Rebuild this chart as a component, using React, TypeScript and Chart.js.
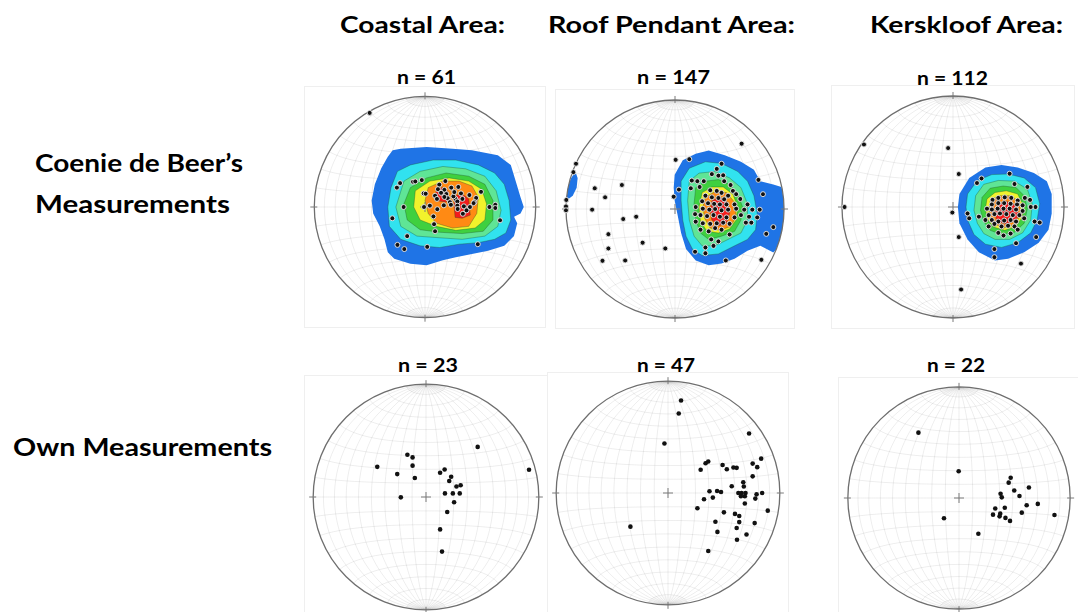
import React, { useEffect, useLayoutEffect, useRef } from "react";
import { Chart, registerables } from "chart.js";
Chart.register(...registerables);

type P = [number, number];
type Ring = [number, P[]];

// ---------- text ----------
const areaTitles = ["Coastal Area:", "Roof Pendant Area:", "Kerskloof Area:"];
const rowLabelsBeer = ["Coenie de Beer’s", "Measurements"];
const rowLabelOwn = "Own Measurements";
const beerCounts = [61, 147, 112];
const ownCounts = [23, 47, 22];

// ---------- poles (projected equal-area coordinates, primitive radius = 100) ----------
const coastalBeerPoles: P[] = [
  [-50, 85], [-22.5, 21.6], [-25.4, 17.5], [-10.8, 22.8], [-8.8, 23.1], [-2.9, 24.3], [-19.3, 0],
  [-29.5, -10.2], [-1.2, 12.3], [0.6, 12], [-0.9, 0], [4.4, 1.2], [11.1, -2], [7.6, -8.5], [8.2, -15.5],
  [9.1, -21.9], [-16.1, -26.3], [-24.9, -34.2], [-18.7, -38], [2, -36], [47.7, -33.6], [67.8, -12],
  [58.2, 0], [63.5, 2], [63.5, -0.9], [50.6, 13.7], [12.9, 20.2], [18.4, 23.4], [17.5, 15.5],
  [23.7, 17.5], [30.1, 18.1], [11.7, 16.1], [19.3, 11.7], [9.1, 10.2], [10.8, 7.3], [20.5, 7.9],
  [27.5, 7.3], [32.5, 12.3], [40.1, 10.8], [46.2, 8.2], [44.7, 4.4], [33.8, 7.3], [29.2, 5], [22.5, 4.4],
  [17, 1.5], [23.4, 2], [29.2, 1.2], [35.1, 0.6], [40.6, 0], [29.5, -1.8], [34.2, -6.1], [17.5, 9.1],
  [25.7, 9.6], [43.9, 3.5], [37.5, -3], [14.5, 12.8], [26.5, 13.5],
];

const roofBeerPoles: P[] = [
  [61.1, 59.9], [-90.8, 41.5], [-93.2, 33.8], [-99.7, 8.3], [-100, 2.4], [-100, -1.2], [-73.6, 19],
  [-48.7, 22], [-64.1, 10.7], [-76, -0.6], [-47.5, -9.2], [-35.6, -7.1], [-61.1, -23.1], [-61.1, -36.2],
  [-66.5, -47.5], [-45.7, -47.2], [-29.7, -30.9], [-8.9, -36.2], [0.6, 45.1], [13.1, 45.7], [-1.2, 11.3],
  [3.6, 17.8], [42.7, 41.5], [76.5, 26.7], [80.7, 13.6], [90.2, -16.6], [83.7, -22.8], [79.2, -46.6],
  [46.6, -47.2], [18.4, -39.2], [27.9, -40.6],
  [38.3, 36.8], [33.8, 32], [39.8, 30.6], [44.2, 30.9], [15.4, 26.1], [20.5, 25.5], [26.4, 25.5],
  [22.6, 20.2], [51, 22], [53.1, 16.6], [59.9, 9.2], [14.5, 19], [32.3, 17.2], [38.3, 16.6], [42.7, 14.8],
  [48.7, 12.2], [27.9, 12.2], [33.8, 10.7], [39.8, 10.1], [45.1, 8.9], [24.9, 7.1], [30.3, 5.3],
  [35.9, 4.7], [41.2, 4.2], [47.2, 4.2], [54.6, 4.2], [66.5, 4.2], [19, 1.8], [25.5, 0.3], [31.5, -0.6],
  [36.8, 0], [42.7, -1.2], [48.7, -0.6], [56.1, 0.3], [63.5, -0.6], [70.9, -0.6], [77.7, -0.6],
  [18.4, -4.7], [23.4, -5.6], [29.4, -6.5], [35.3, -5.6], [41.2, -7.1], [47.2, -7.7], [54.6, -7.7],
  [60.5, -5.6], [67.9, -7.1], [75.4, -7.7], [19, -11.6], [25.5, -13.1], [32.3, -13.6], [38.3, -13.1],
  [44.2, -12.5], [50.1, -13.6], [65, -12.5], [70, -12.5], [23.4, -19], [30.9, -20.5], [36.8, -17.5],
  [42.7, -19], [50.1, -23.4], [33.2, -27.9], [39.8, -29.7], [35.3, -33.8], [27.9, -35.3], [45.1, 25.5],
  [56.1, 13.6],
];

const kersBeerPoles: P[] = [
  [-80.2, 56.3], [-4.4, 53.1], [5.2, 29.7], [-97.7, 0], [-0.6, -5], [5.2, -27.1], [7.3, -74.3],
  [61.2, -51], [37.3, -37.9], [37.3, -45.2], [51, 30], [25.7, 25.7], [21.6, 21.6], [55.4, 20.7],
  [67, 18.1], [13.1, -5.8], [14.6, -10.2], [23.3, -8.7], [69.4, 6.4], [74.3, 0], [73.5, -13.1],
  [78.1, -14], [74.9, -27.1], [56.8, -32.6],
  [35.6, 6.4], [40.8, 8.2], [46.6, 8.7], [52.5, 8.2], [58.3, 5.8], [35, 2.3], [40.8, 3.5], [46.1, 3.5],
  [51.9, 2.9], [57.7, 2.3], [62.7, 1.5], [70, 0], [35, -2.3], [40.2, -1.5], [45.5, -1.5], [51, -1.5],
  [56.8, -2.3], [62.7, -3.5], [32.1, -7.3], [37.3, -6.4], [42.3, -5.8], [48.1, -6.4], [53.9, -7.3],
  [59.8, -7.3], [29.2, -11.7], [35, -11.7], [40.8, -13.1], [46.1, -12.2], [51.9, -11.7], [56.8, -13.1],
  [32.1, -17.5], [37.3, -15.2], [43.7, -17.5], [49.6, -16.9], [55.4, -17.5], [40.8, -23.3],
  [45.5, -25.7], [51.9, -23.9], [58.3, -20.4], [64.1, -10.2], [30.6, -1.5], [64.7, 8.2],
];

const coastalOwnPoles: P[] = [
  [45.8, 44.4], [91.3, 24.1], [-43.2, 26.7], [-16.5, 37.4], [-11.9, 35.1], [-11.9, 27.8], [-25.5, 20.3],
  [-9.9, 16.8], [-22.3, -0.3], [12.5, 21.5], [16.5, 24.4], [22.3, 18], [20.6, 14.2], [27, 9.3],
  [30.7, 10.4], [16.8, 3.2], [23.8, 3.2], [29.9, 3.2], [24.9, -4.6], [18.8, -13.3], [12.5, -28.7],
  [14.2, -48.4],
];

const roofOwnPoles: P[] = [
  [11.7, 82.7], [9.6, 71.1], [72.5, 53.2], [-3.2, 44.2], [83.3, 30.7], [75.7, 26.3], [79.8, 23.1],
  [75.7, 14.9], [33.6, 26.6], [36, 28.1], [29.2, 20.8], [48.8, 25.1], [52.6, 21.3], [58.5, 22.8],
  [61.4, 22.5], [67.3, 9.6], [57, 6.1], [67.8, 5.8], [37.1, 1.5], [43.9, 1.8], [47.4, 0.9], [32.2, -5.6],
  [40.1, -4.1], [62.9, 0], [65.8, 0], [69.3, 0], [65.2, -2.9], [68.7, -2.9], [79.2, -1.2], [84.2, 0],
  [78.1, -5], [68.7, -9.4], [26.3, -13.7], [89.2, -15.8], [50, -17.3], [59.9, -18.7], [63.7, -20.5],
  [42.4, -25.7], [63.7, -26], [77.5, -26.9], [61.4, -31.3], [44.2, -34.8], [70.2, -37.1], [61.7, -41.8],
  [36, -51.8], [-33.6, -30.1],
];

const kersOwnPoles: P[] = [
  [-36.5, 58.8], [-0.3, 24.1], [46.5, 18.2], [44.7, 13.8], [62.9, 9.4], [49.7, 6.8], [37.4, 3.8],
  [38.5, 0.6], [54.4, 1.8], [70.9, -5.3], [60.9, -6.5], [85.9, -15.3], [32.6, -9.4], [41.2, -8.8],
  [56.5, -13.2], [30.6, -15], [36.5, -16.5], [37.1, -14.1], [41.8, -17.9], [45.9, -20.6], [-13.5, -18.2],
  [17.4, -32.1],
];

// ---------- density contours: [level, ring] ----------
const coastalRings: Ring[] = [
  [0, [[-29.2, 51.2], [-21.9, 52.6], [1.5, 54.1], [24.9, 52.6], [42.4, 51.2], [65.8, 46.8], [77.5, 38], [81.9, 23.4], [86.3, 8.8], [89.2, 0], [86.3, -5.8], [80.4, -8.8], [83.3, -14.6], [80.4, -26.3], [71.6, -35.1], [57, -39.5], [42.4, -42.4], [27.8, -45.3], [16.1, -48.2], [1.5, -52.6], [-13.2, -51.2], [-27.8, -46.8], [-33.6, -40.9], [-36.6, -29.2], [-40.9, -17.5], [-46.8, -5.8], [-48.2, 5.8], [-45.3, 20.5], [-39.5, 35.1], [-33.6, 45.3]]],
  [1, [[-24.9, 32.2], [-13.2, 38], [7.3, 42.4], [27.8, 42.4], [48.2, 38], [62.9, 30.7], [71.6, 20.5], [76, 5.8], [77.5, -11.7], [73.1, -23.4], [62.9, -29.2], [48.2, -32.2], [30.7, -33.6], [13.2, -36.6], [-4.4, -35.1], [-21.9, -29.2], [-32.2, -17.5], [-33.6, 0], [-30.7, 17.5]]],
  [2, [[-19, 23.4], [-4.4, 32.2], [16.1, 36.6], [36.6, 34.5], [54.1, 27.8], [64.3, 14.6], [68.7, -2.9], [65.8, -17.5], [54.1, -26.3], [33.6, -29.2], [13.2, -27.8], [-7.3, -26.3], [-21.9, -17.5], [-26.3, 0]]],
  [3, [[-13.2, 17.5], [1.5, 26.3], [19, 30.7], [39.5, 27.8], [54.1, 20.5], [61.4, 5.8], [61.4, -11.7], [52.6, -21.9], [33.6, -24], [13.2, -22.8], [-4.4, -20.5], [-16.1, -11.7], [-19, 2.9]]],
  [4, [[-8.8, 14.6], [4.4, 23.4], [21.9, 26.3], [39.5, 23.4], [51.2, 16.1], [55.6, 2.9], [54.1, -11.7], [45.3, -19], [27.8, -21.1], [10.2, -17.5], [-4.4, -11.7], [-10.2, 0]]],
  [5, [[2.9, 17.5], [16.1, 23.4], [30.7, 23.4], [42.4, 19], [48.2, 8.8], [46.8, -5.8], [39.5, -17.5], [24.9, -19], [10.2, -14.6], [2.9, -5.8], [0, 5.8]]],
  [6, [[10.2, 14.6], [16.1, 18.1], [20.5, 14.6], [21.9, 8.8], [19, 4.4], [13.2, 5.3], [8.8, 8.8]]],
  [6, [[26.3, 10.2], [33.6, 11.7], [39.5, 7.3], [40.9, -7.3], [33.6, -10.2], [27.2, -9.4], [26.3, 0]]],
];

const roofRings: Ring[] = [
  [0, [[-0.3, 31.4], [7.1, 44.8], [19, 50.7], [30.9, 53.7], [45.7, 49.3], [60.5, 43.3], [72.4, 35.9], [78.3, 25.5], [90.2, 22.5], [97.6, 20.2], [101, 7.7], [101, -10.1], [97, -24.9], [93.2, -36.8], [90.2, -39.8], [78.3, -33.8], [66.5, -38.3], [54.6, -45.7], [42.7, -50.1], [30.9, -51.6], [19, -47.2], [10.1, -36.8], [5.6, -22], [2.7, -7.1], [-0.3, 7.7], [-1.2, 19.6]]],
  [0, [[-100.5, 16.6], [-95.2, 28.5], [-91.4, 34.4], [-89.3, 28.5], [-90.2, 19.6], [-93.8, 12.2], [-99, 8.3]]],
  [1, [[5.6, 25.5], [13.1, 37.4], [27.9, 43.3], [42.7, 41.8], [57.6, 34.4], [66.5, 25.5], [72.4, 12.2], [75.4, -4.2], [73.9, -19], [66.5, -27.9], [54.6, -33.8], [39.8, -41.2], [24.9, -42.7], [16, -36.8], [10.1, -24.9], [7.1, -10.1], [5.6, 7.7]]],
  [2, [[13.1, 25.5], [22, 32.9], [36.8, 34.4], [50.1, 28.5], [60.5, 19.6], [66.5, 4.7], [66.5, -10.1], [60.5, -22], [48.7, -27.9], [36.8, -33.8], [24.9, -33.8], [17.5, -24.9], [13.1, -10.1], [11.6, 7.7]]],
  [3, [[19, 19.6], [27.9, 25.5], [39.8, 27], [50.1, 22.5], [57.6, 13.6], [62, 1.8], [60.5, -10.1], [54.6, -20.5], [42.7, -24.9], [30.9, -27.9], [23.4, -22], [19, -10.1], [17.5, 4.7]]],
  [4, [[24.9, 15.1], [33.8, 20.2], [44.2, 20.2], [53.1, 13.6], [57.6, 1.8], [56.1, -10.1], [50.1, -18.4], [39.8, -22], [29.4, -20.5], [23.4, -11.6], [22, 1.8]]],
  [5, [[27.9, 10.7], [36.8, 16], [47.2, 15.1], [54.6, 6.2], [56.1, -7.1], [51, -16], [41.2, -19.6], [32.3, -17.5], [27.3, -8.6], [25.5, 1.8]]],
  [6, [[33.8, 7.7], [41.2, 10.7], [48.7, 6.2], [50.1, -4.2], [47.2, -13.1], [39.8, -15.4], [33.8, -10.1], [32.3, -1.2]]],
];

const kersRings: Ring[] = [
  [0, [[5.8, 11.7], [14.6, 26.2], [29.2, 35.6], [43.7, 37.9], [58.3, 35.6], [72.9, 30.6], [84.5, 23.3], [88.9, 11.7], [88.9, -5.8], [86, -20.4], [77.2, -32.1], [64.1, -40.8], [49.6, -46.6], [37.9, -48.1], [23.3, -40.8], [13.1, -29.2], [5.8, -14.6], [4.4, 0]]],
  [1, [[13.1, 11.7], [21.9, 23.9], [35, 29.2], [49.6, 29.7], [64.1, 26.2], [74.3, 17.5], [78.1, 2.9], [75.8, -11.7], [70, -23.3], [58.3, -32.1], [43.7, -36.4], [29.2, -33.5], [18.9, -24.8], [13.1, -11.7], [11.7, 0]]],
  [2, [[20.4, 10.2], [27.7, 20.4], [40.8, 23.9], [55.4, 23.3], [67, 16], [71.4, 2.9], [70, -11.7], [62.7, -23.3], [51, -29.2], [37.9, -29.2], [27.7, -23.9], [21.9, -14.6], [18.9, -2.9]]],
  [3, [[26.2, 8.7], [33.5, 16.9], [45.2, 18.9], [56.8, 17.5], [64.1, 10.2], [67, -1.5], [64.1, -14.6], [55.4, -22.7], [43.7, -24.8], [33.5, -21], [27.7, -13.1], [24.8, -2.9]]],
  [4, [[30.6, 7.3], [37.9, 13.1], [48.1, 14.6], [58.3, 11.7], [62.7, 2.9], [62.7, -8.7], [56.8, -17.5], [46.6, -21], [36.4, -18.1], [30.6, -10.2], [29.2, -1.5]]],
  [5, [[33.5, 5.8], [40.8, 10.2], [52.5, 10.2], [59.8, 4.4], [61.2, -7.3], [55.4, -16], [45.2, -19], [36.4, -14.6], [32.6, -5.8]]],
  [6, [[40.8, 2.9], [48.1, 5.2], [55.4, 2.3], [59.8, -7.3], [55.4, -13.1], [46.6, -15.2], [39.4, -13.1], [37.9, -4.4]]],
];

const levelColors = ["#1f74e6", "#31e2ef", "#5fe596", "#3fd03f", "#f2f22c", "#ff8a14", "#f41c1c"];

// ---------- equal-area (Schmidt) projection ----------
function proj(lonDeg: number, latDeg: number): P {
  const l = (lonDeg * Math.PI) / 180;
  const f = (latDeg * Math.PI) / 180;
  const x = Math.cos(f) * Math.sin(l);
  const y = Math.sin(f);
  const z = Math.cos(f) * Math.cos(l);
  const k = 1 / Math.sqrt(1 + z);
  return [100 * x * k, 100 * y * k];
}

function makeNetPlugin(rings: Ring[]) {
  return {
    id: "stereonet",
    beforeDatasetsDraw(chart: any) {
      const { ctx } = chart;
      const xs = chart.scales.x;
      const ys = chart.scales.y;
      const X = (v: number) => xs.getPixelForValue(v);
      const Y = (v: number) => ys.getPixelForValue(v);
      const cx = X(0);
      const cy = Y(0);
      const rad = X(100) - cx;
      ctx.save();
      ctx.strokeStyle = "#efefef";
      ctx.lineWidth = 1;
      ctx.strokeRect(0.5, 0.5, chart.width - 1, chart.height - 1);

      ctx.save();
      ctx.beginPath();
      ctx.arc(cx, cy, rad, 0, Math.PI * 2);
      ctx.fillStyle = "#ffffff";
      ctx.fill();
      ctx.clip();

      const poly = (pts: P[]) => {
        ctx.beginPath();
        pts.forEach(([a, b], i) => (i ? ctx.lineTo(X(a), Y(b)) : ctx.moveTo(X(a), Y(b))));
        ctx.stroke();
      };
      // fine polar fans
      ctx.strokeStyle = "rgba(0,0,0,0.035)";
      ctx.lineWidth = 0.5;
      for (let lon = -88; lon <= 88; lon += 2) {
        if (lon % 10 === 0) continue;
        const top: P[] = [];
        const bot: P[] = [];
        for (let lat = 80; lat <= 90; lat += 1) {
          top.push(proj(lon, lat));
          bot.push(proj(lon, -lat));
        }
        poly(top);
        poly(bot);
      }
      // main 10 degree grid
      ctx.strokeStyle = "rgba(0,0,0,0.12)";
      ctx.lineWidth = 0.6;
      for (let lon = -80; lon <= 80; lon += 10) {
        const pts: P[] = [];
        for (let lat = -90; lat <= 90; lat += 2) pts.push(proj(lon, lat));
        poly(pts);
      }
      for (let lat = -80; lat <= 80; lat += 10) {
        const pts: P[] = [];
        for (let lon = -90; lon <= 90; lon += 2) pts.push(proj(lon, lat));
        poly(pts);
      }

      // contours (straight-edged polygons)
      ctx.lineJoin = "round";
      for (const [lvl, pts] of rings) {
        ctx.beginPath();
        pts.forEach(([a, b], i) => (i ? ctx.lineTo(X(a), Y(b)) : ctx.moveTo(X(a), Y(b))));
        ctx.closePath();
        ctx.fillStyle = levelColors[lvl];
        ctx.fill();
        if (lvl > 0) {
          ctx.strokeStyle = "rgba(30,80,40,0.5)";
          ctx.lineWidth = 0.7;
          ctx.stroke();
        }
      }
      ctx.restore();

      // primitive circle
      ctx.beginPath();
      ctx.arc(cx, cy, rad, 0, Math.PI * 2);
      ctx.strokeStyle = "#6e6e6e";
      ctx.lineWidth = 1.3;
      ctx.stroke();
      // cardinal ticks and centre cross
      ctx.strokeStyle = "#7a7a7a";
      ctx.lineWidth = 1;
      ctx.beginPath();
      ctx.moveTo(cx, cy - rad - 4);
      ctx.lineTo(cx, cy - rad + 3);
      ctx.moveTo(cx, cy + rad - 3);
      ctx.lineTo(cx, cy + rad + 4);
      ctx.moveTo(cx - rad - 4, cy);
      ctx.lineTo(cx - rad + 3, cy);
      ctx.moveTo(cx + rad - 3, cy);
      ctx.lineTo(cx + rad + 4, cy);
      ctx.moveTo(cx - 5, cy);
      ctx.lineTo(cx + 5, cy);
      ctx.moveTo(cx, cy - 5);
      ctx.lineTo(cx, cy + 5);
      ctx.stroke();
      ctx.restore();
    },
  };
}

function Net(props: { cx: number; cy: number; r: number; poles: P[]; rings: Ring[]; halo: boolean }) {
  const { cx, cy, r, poles, rings, halo } = props;
  const ref = useRef<HTMLCanvasElement>(null);
  const half = Math.ceil(r + 7);
  useEffect(() => {
    const L = (100 * half) / r;
    const chart = new Chart(ref.current as HTMLCanvasElement, {
      type: "scatter",
      data: {
        datasets: [
          {
            data: poles.map(([x, y]) => ({ x, y })),
            pointRadius: halo ? 2.5 : 2.3,
            pointHoverRadius: 0,
            backgroundColor: "#111111",
            borderColor: halo ? "rgba(228,228,228,0.95)" : "#111111",
            borderWidth: halo ? 1 : 0,
          },
        ],
      },
      options: {
        animation: false,
        responsive: false,
        events: [],
        layout: { padding: 0 },
        plugins: { legend: { display: false }, tooltip: { enabled: false } },
        scales: {
          x: { type: "linear", min: -L, max: L, display: false },
          y: { type: "linear", min: -L, max: L, display: false },
        },
      },
      plugins: [makeNetPlugin(rings)],
    } as any);
    return () => chart.destroy();
  }, []);
  return (
    <canvas
      ref={ref}
      width={2 * half}
      height={2 * half}
      style={{ position: "absolute", left: Math.round(cx - half), top: Math.round(cy - half), width: 2 * half, height: 2 * half }}
    />
  );
}

function Label(props: { text: string; left: number; baseline: number; size: number; width: number }) {
  const { text, left, baseline, size, width } = props;
  const ref = useRef<HTMLSpanElement>(null);
  useLayoutEffect(() => {
    const el = ref.current;
    if (!el) return;
    const w = el.getBoundingClientRect().width;
    if (w > 0) el.style.transform = `scaleX(${width / w})`;
  }, []);
  return (
    <span
      ref={ref}
      style={{
        position: "absolute",
        left,
        top: baseline - 0.887 * size,
        fontFamily: "Lato, 'Open Sans', sans-serif",
        fontWeight: 700,
        fontSize: size,
        lineHeight: `${size}px`,
        whiteSpace: "nowrap",
        color: "#000",
        transformOrigin: "left center",
        display: "inline-block",
      }}
    >
      {text}
    </span>
  );
}

export default function App() {
  return (
    <div style={{ position: "absolute", left: 0, top: 0, width: 1078, height: 612, overflow: "hidden", background: "#fff" }}>
      <Label text={areaTitles[0]} left={340} baseline={33} size={23} width={165} />
      <Label text={areaTitles[1]} left={548} baseline={33} size={23} width={247} />
      <Label text={areaTitles[2]} left={870} baseline={33} size={23} width={193} />

      <Label text={`n = ${beerCounts[0]}`} left={397} baseline={84} size={19.5} width={59} />
      <Label text={`n = ${beerCounts[1]}`} left={637} baseline={84} size={19.5} width={73} />
      <Label text={`n = ${beerCounts[2]}`} left={917} baseline={85.5} size={19.5} width={71} />

      <Label text={`n = ${ownCounts[0]}`} left={398} baseline={372} size={19.5} width={60} />
      <Label text={`n = ${ownCounts[1]}`} left={637} baseline={372} size={19.5} width={58} />
      <Label text={`n = ${ownCounts[2]}`} left={927} baseline={372} size={19.5} width={58} />

      <Label text={rowLabelsBeer[0]} left={35} baseline={172} size={24} width={208} />
      <Label text={rowLabelsBeer[1]} left={35} baseline={213} size={24} width={195} />
      <Label text={rowLabelOwn} left={13} baseline={456.5} size={24} width={259} />

      <Net cx={425} cy={206.7} r={114} poles={coastalBeerPoles} rings={coastalRings} halo={true} />
      <Net cx={675.3} cy={208.7} r={112.3} poles={roofBeerPoles} rings={roofRings} halo={true} />
      <Net cx={953.3} cy={206.7} r={114.3} poles={kersBeerPoles} rings={kersRings} halo={true} />
      <Net cx={426.3} cy={497} r={115} poles={coastalOwnPoles} rings={[]} halo={false} />
      <Net cx={668.3} cy={492.7} r={114} poles={roofOwnPoles} rings={[]} halo={false} />
      <Net cx={958.7} cy={498} r={113.3} poles={kersOwnPoles} rings={[]} halo={false} />
    </div>
  );
}
